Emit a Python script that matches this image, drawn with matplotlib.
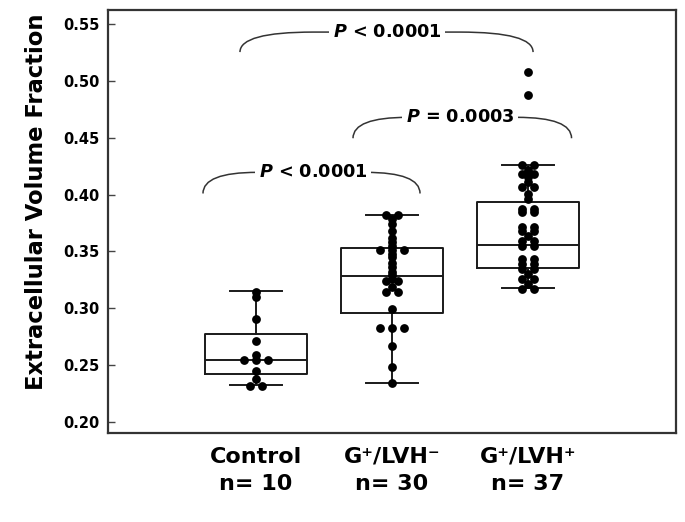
"""Extracellular volume fraction by group: box plots with individual points."""
import numpy as np
import matplotlib
matplotlib.use('Agg')
import matplotlib.pyplot as plt
from matplotlib.path import Path
from matplotlib.patches import PathPatch

plt.rcParams.update({
    'font.family': ['DejaVu Sans'],
    'font.weight': 'bold',
    'mathtext.fontset': 'custom',
    'mathtext.rm': 'DejaVu Sans:bold',
    'mathtext.it': 'DejaVu Sans:italic:bold',
    'mathtext.bf': 'DejaVu Sans:bold',
})

# ---------- data ----------
groups = ['Control', 'G\u207a/LVH\u207b', 'G\u207a/LVH\u207a']
n_text = ['n= 10', 'n= 30', 'n= 37']

control = [0.314, 0.310, 0.291, 0.271, 0.259, 0.2545, 0.2545, 0.2545,
           0.245, 0.238, 0.232, 0.232]
lvh_neg = [0.3825, 0.3825, 0.3787, 0.3742, 0.3684, 0.3620, 0.3581, 0.355,
           0.351, 0.351, 0.351, 0.348, 0.345, 0.340, 0.336, 0.3317, 0.329,
           0.326, 0.3243, 0.3243, 0.3187, 0.314, 0.314, 0.2993, 0.2826,
           0.2826, 0.2826, 0.267, 0.2485, 0.2347]
lvh_pos = [0.508, 0.488, 0.4257, 0.4257, 0.4213, 0.4184, 0.4184, 0.4155,
           0.411, 0.4066, 0.4066, 0.4008, 0.3964, 0.3875, 0.3875, 0.3846,
           0.3846, 0.3714, 0.3714, 0.3684, 0.3684, 0.364, 0.3596, 0.3596,
           0.3552, 0.3552, 0.3435, 0.3435, 0.3391, 0.3391, 0.3347, 0.3347,
           0.3303, 0.3259, 0.3259, 0.3215, 0.317, 0.317]

# box statistics as drawn in the original
whislo = [0.2326, 0.2347, 0.3176]
q1 = [0.2423, 0.2955, 0.3355]
med = [0.2547, 0.3287, 0.3558]
q3 = [0.2776, 0.3531, 0.3934]
whishi = [0.3155, 0.3825, 0.4257]

# pairwise comparisons: (group a, group b, label)
comparisons = [(0, 2, '$\\mathit{P}$ < 0.0001'),
               (1, 2, '$\\mathit{P}$ = 0.0003'),
               (0, 1, '$\\mathit{P}$ < 0.0001')]
# bracket geometry (left x, right x, end y, top y, label x) for each comparison
brackets = [(-0.118, 2.037, 0.5254, 0.5430, 0.963),
            (0.713, 2.320, 0.4496, 0.4680, 1.500),
            (-0.390, 1.206, 0.4010, 0.4196, 0.420)]

INK = '#1a1a1a'


def spread(vals, step):
    """Put points with equal values side by side, centred on the group."""
    vals = np.asarray(vals)
    xs = np.zeros(len(vals))
    for v in np.unique(vals):
        idx = np.where(vals == v)[0]
        xs[idx] = (np.arange(len(idx)) - (len(idx) - 1) / 2) * step
    return xs


fig = plt.figure(figsize=(6.85, 5.22), dpi=100)
ax = fig.add_axes([0.1577, 0.1705, 0.8292, 0.8103])

stats = []
for i in range(3):
    stats.append({'whislo': whislo[i], 'q1': q1[i], 'med': med[i],
                  'q3': q3[i], 'whishi': whishi[i], 'fliers': []})
line = dict(color=INK, linewidth=1.4)
ax.bxp(stats, positions=[0, 1, 2], widths=0.75, capwidths=0.38,
       showfliers=False, boxprops=line, whiskerprops=line, capprops=line,
       medianprops=line)

for i, vals in enumerate([control, lvh_neg, lvh_pos]):
    ax.scatter(i + spread(vals, 0.09), vals, s=40, color='black',
               linewidths=0, zorder=3)

# significance brackets
for (a, b, lab), (x0, x1, yb, yt, xt) in zip(comparisons, brackets):
    r = 0.25 * (x1 - x0)
    verts = [(x0, yb), (x0, yt), (x0 + r, yt), (x1 - r, yt), (x1, yt), (x1, yb)]
    codes = [Path.MOVETO, Path.CURVE3, Path.CURVE3, Path.LINETO,
             Path.CURVE3, Path.CURVE3]
    ax.add_patch(PathPatch(Path(verts, codes), fill=False, edgecolor='#333333',
                           linewidth=1.1))
    ax.text(xt, yt, lab, ha='center', va='center', fontsize=12.7,
            fontweight='bold', zorder=4,
            bbox=dict(facecolor='white', edgecolor='none', pad=2.5))

ax.set_xlim(-1.088, 3.088)
ax.set_ylim(0.1903, 0.5624)
ax.set_yticks(np.arange(0.20, 0.551, 0.05))
ax.set_yticklabels([f'{t:.2f}' for t in np.arange(0.20, 0.551, 0.05)])
ax.set_xticks([0, 1, 2])
ax.set_xticklabels([f'{g}\n{n}' for g, n in zip(groups, n_text)],
                   fontsize=16, linespacing=1.45)
ax.tick_params(axis='x', length=0, pad=10)
ax.tick_params(axis='y', direction='in', length=5, width=1, color='#444444',
               labelsize=10.5, pad=6)
for sp in ax.spines.values():
    sp.set_color('#333333')
    sp.set_linewidth(1.6)

ax.set_ylabel('Extracellular Volume Fraction', fontsize=16.3, fontweight='bold')
ax.yaxis.set_label_coords(-0.106, 0.546)

fig.savefig('out.png', dpi=100)
